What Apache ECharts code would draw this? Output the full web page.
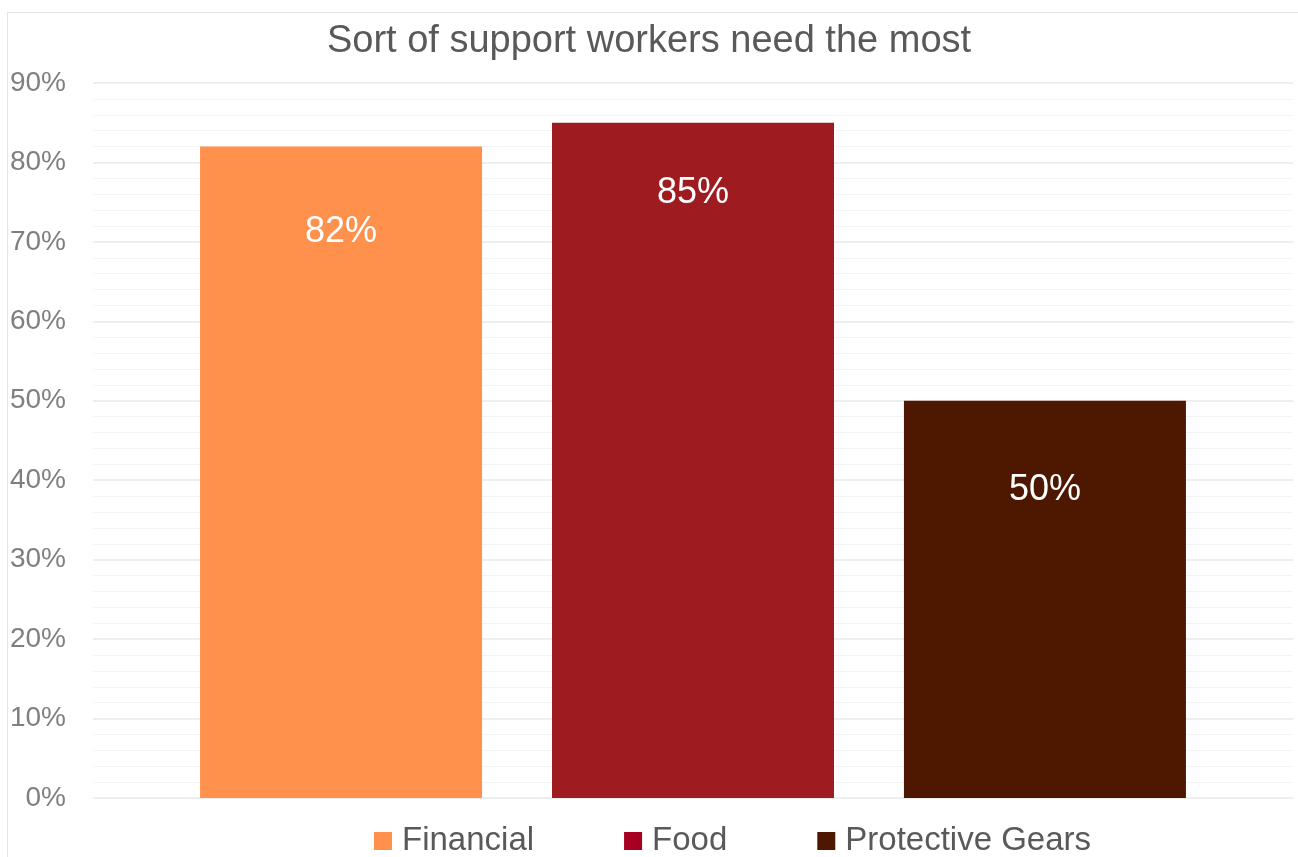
<!DOCTYPE html>
<html>
<head>
<meta charset="utf-8">
<script src="https://cdn.jsdelivr.net/npm/echarts@6/dist/echarts.min.js"></script>
<style>
  html, body { margin: 0; padding: 0; background: #ffffff; }
  #chart { width: 1298px; height: 857px; }
</style>
</head>
<body>
<div id="chart"></div>
<script>
// Share of workers naming each kind of support as the one they need most
const seriesNames = ['Financial', 'Food', 'Protective Gears'];
const seriesValues = [82, 85, 50];
const barColors = ['#FF914D', '#9E1C1F', '#4E1800'];
const legendColors = ['#FF914D', '#A50021', '#4E1800'];
const labelDistances = [68, 52, 71];
const yTicks = { min: 0, max: 90, interval: 10 };

const textFont = '"Liberation Sans", Arial, sans-serif';

const chart = echarts.init(document.getElementById('chart'), null, { renderer: 'canvas' });

const series = seriesNames.map((name, i) => ({
  name: name,
  type: 'bar',
  data: [seriesValues[i]],
  barWidth: 282,
  barGap: '24.8%',
  itemStyle: { color: barColors[i] },
  label: {
    show: true,
    position: 'insideTop',
    distance: labelDistances[i],
    formatter: '{c}%',
    color: '#ffffff',
    fontFamily: textFont,
    fontWeight: 'normal',
    fontSize: 36,
    lineHeight: 36
  }
}));

chart.setOption({
  backgroundColor: '#ffffff',
  animation: false,
  graphic: [{
    type: 'rect',
    shape: { x: 7.5, y: 12.5, width: 1400, height: 900 },
    style: { fill: null, stroke: '#e3e3e3', lineWidth: 1 },
    silent: true,
    z: -10
  }],
  title: {
    text: 'Sort of support workers need the most',
    left: 'center',
    top: 17,
    textStyle: {
      fontFamily: textFont,
      fontWeight: 'normal',
      fontSize: 38,
      lineHeight: 40,
      color: '#595959'
    }
  },
  legend: {
    top: 823,
    left: 374,
    padding: 0,
    icon: 'rect',
    itemWidth: 18,
    itemHeight: 18,
    itemGap: 90,
    textStyle: {
      fontFamily: textFont,
      fontSize: 33,
      lineHeight: 36,
      color: '#595959',
      padding: [0, 0, 0, 5]
    },
    data: seriesNames.map((name, i) => ({ name: name, itemStyle: { color: legendColors[i] } }))
  },
  grid: { left: 93, right: 5, top: 83, bottom: 59 },
  xAxis: {
    type: 'category',
    data: [''],
    axisLine: { show: false },
    axisTick: { show: false },
    axisLabel: { show: false }
  },
  yAxis: {
    type: 'value',
    min: yTicks.min,
    max: yTicks.max,
    interval: yTicks.interval,
    axisLine: { show: false },
    axisTick: { show: false },
    axisLabel: {
      formatter: '{value}%',
      margin: 27,
      fontFamily: textFont,
      fontWeight: 'normal',
      fontSize: 28,
      padding: [6, 0, 0, 0],
      color: '#7f7f7f'
    },
    splitLine: { show: true, lineStyle: { color: '#e8e8e8', width: 1.5 } },
    minorTick: { show: false, splitNumber: 5 },
    minorSplitLine: { show: true, lineStyle: { color: '#f4f4f4', width: 1 } }
  },
  series: series
});
</script>
</body>
</html>
